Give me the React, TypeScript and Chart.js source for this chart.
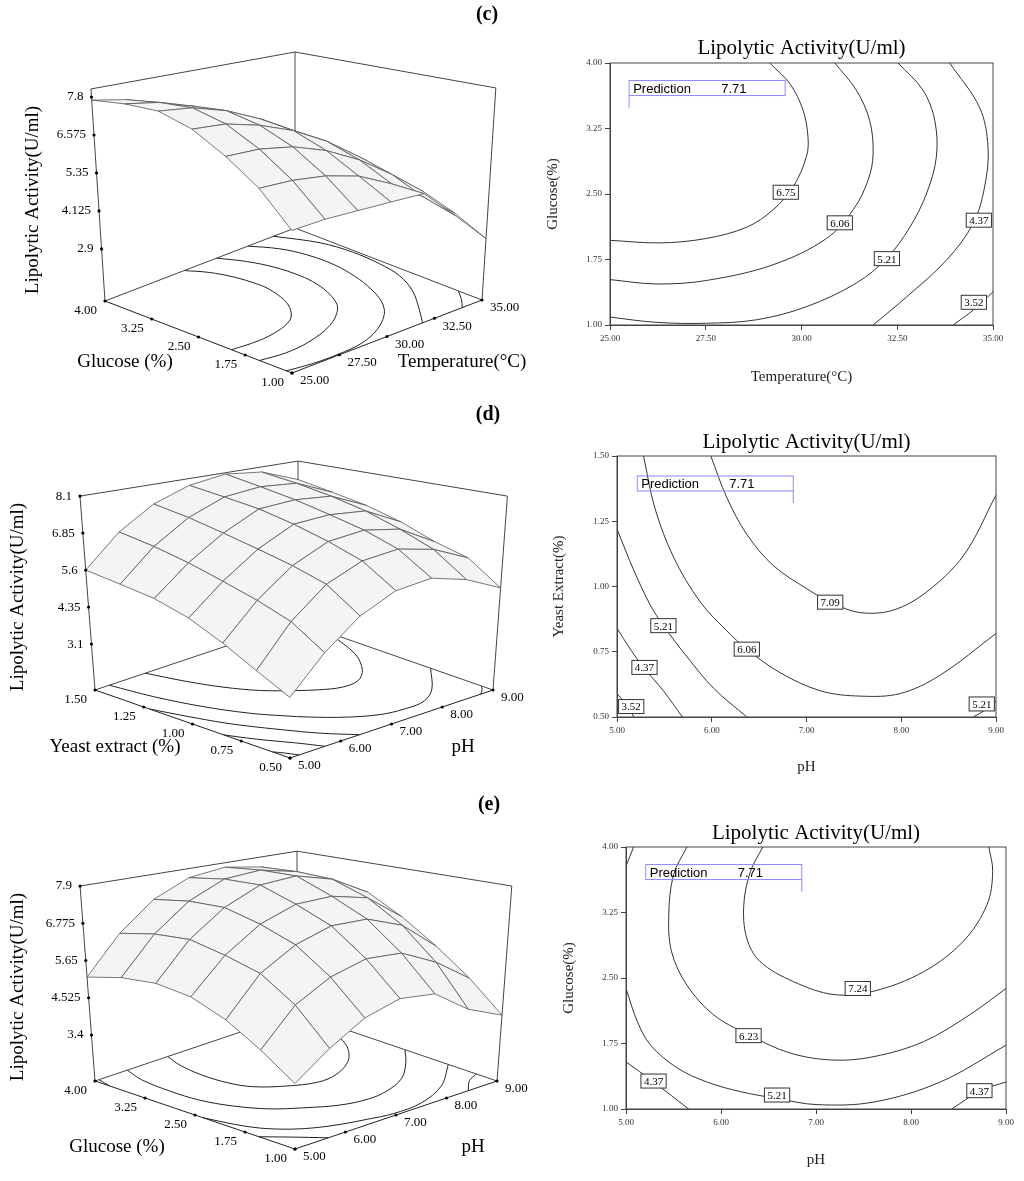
import React, { useEffect, useRef } from "react";
import { Chart, registerables } from "chart.js";
Chart.register(...registerables);

// ---------- Panel (c): Glucose (%) vs Temperature (°C) ----------
const cTempTicks = [25, 27.5, 30, 32.5, 35];
const cGlucoseTicks = [1, 1.75, 2.5, 3.25, 4];
const cZTicks = [2.9, 4.125, 5.35, 6.575, 7.8];
const cZLabels = ["2.9", "4.125", "5.35", "6.575", "7.8"];
const cGridGlucose = [1, 1.5, 2, 2.5, 3, 3.5, 4];
const cGridTemp = [25, 26.67, 28.33, 30, 31.67, 33.33, 35];
const cSurface = [
  [5.15, 5.22, 5.22, 5.22, 5.21, 4.25, 3.2],
  [6.1, 6.1, 6.0, 5.75, 5.25, 4.55, 3.7],
  [6.8, 6.8, 6.65, 6.3, 5.75, 5.0, 4.1],
  [7.4, 7.35, 7.1, 6.7, 6.1, 5.3, 4.35],
  [7.75, 7.65, 7.35, 6.85, 6.2, 5.4, 4.4],
  [7.78, 7.62, 7.28, 6.7, 6.0, 5.1, 4.05],
  [7.7, 7.5, 7.1, 6.45, 5.65, 4.7, 3.6],
];
const cLine675 = [[25, 1.97], [26.3, 1.94], [27.5, 1.99], [28.57, 2.12], [29.26, 2.32], [29.78, 2.58], [30.13, 2.93], [30.17, 3.15], [30.04, 3.46], [29.7, 3.76], [29.17, 4.0]];
const cLine606 = [[25, 1.52], [26.2, 1.47], [27.52, 1.51], [29.26, 1.69], [30.65, 1.99], [31.35, 2.32], [31.74, 2.66], [31.87, 2.96], [31.78, 3.34], [31.43, 3.69], [30.87, 4.0]];
const cLine521 = [[25, 1.09], [26.22, 1.03], [27.52, 1.02], [28.83, 1.06], [30.13, 1.21], [31.43, 1.48], [32.22, 1.76], [32.83, 2.12], [33.26, 2.5], [33.52, 2.92], [33.48, 3.34], [33.17, 3.69], [32.52, 4.0]];
const cLine437 = [[31.87, 1.0], [32.74, 1.32], [33.78, 1.74], [34.48, 2.16], [34.78, 2.58], [34.87, 3.04], [34.65, 3.49], [33.87, 4.0]];
const cLine352 = [[33.96, 1.0], [34.48, 1.17], [35, 1.38]];
const cLabels = [["6.75", 29.59, 2.52], ["6.06", 31.0, 2.17], ["5.21", 32.23, 1.76], ["4.37", 34.63, 2.2], ["3.52", 34.5, 1.26]];

// ---------- Panel (d): Yeast extract (%) vs pH ----------
const dPhTicks = [5, 6, 7, 8, 9];
const dYeastTicks = [0.5, 0.75, 1.0, 1.25, 1.5];
const dZTicks = [3.1, 4.35, 5.6, 6.85, 8.1];
const dZLabels = ["3.1", "4.35", "5.6", "6.85", "8.1"];
const dGridYeast = [0.5, 0.667, 0.833, 1.0, 1.167, 1.333, 1.5];
const dGridPh = [5, 5.667, 6.333, 7, 7.667, 8.333, 9];
const dSurface = [
  [3.3, 4.33, 5.17, 5.7, 5.85, 5.55, 5.0],
  [3.8, 5.0, 5.9, 6.4, 6.55, 6.3, 5.75],
  [4.35, 5.4, 6.25, 6.8, 6.95, 6.75, 6.05],
  [4.85, 5.75, 6.55, 7.15, 7.25, 7.15, 6.5],
  [5.2, 6.1, 6.85, 7.45, 7.55, 7.45, 6.85],
  [5.4, 6.4, 7.15, 7.65, 7.8, 7.7, 7.1],
  [5.6, 6.65, 7.4, 7.85, 8.05, 7.9, 7.35],
];
const dLine709 = [[5.99, 1.5], [6.16, 1.34], [6.37, 1.2], [6.65, 1.08], [7.01, 0.99], [7.25, 0.94], [7.57, 0.9], [7.92, 0.91], [8.27, 0.98], [8.66, 1.12], [9.0, 1.35]];
const dLine606 = [[5.28, 1.5], [5.4, 1.3], [5.6, 1.11], [5.88, 0.94], [6.16, 0.83], [6.37, 0.76], [6.72, 0.67], [7.15, 0.6], [7.57, 0.58], [7.99, 0.59], [8.41, 0.66], [9, 0.82]];
const dLine521a = [[5, 1.22], [5.18, 1.06], [5.35, 0.93], [5.49, 0.85], [5.74, 0.73], [6.02, 0.61], [6.37, 0.5]];
const dLine521b = [[8.76, 0.5], [8.9, 0.53], [9, 0.56]];
const dLine437 = [[5, 0.84], [5.14, 0.76], [5.28, 0.69], [5.49, 0.6], [5.69, 0.5]];
const dLine352 = [[5, 0.59], [5.09, 0.55], [5.18, 0.5]];
const dLabels = [["7.09", 7.25, 0.94], ["6.06", 6.37, 0.76], ["5.21", 5.49, 0.85], ["4.37", 5.29, 0.69], ["3.52", 5.15, 0.54], ["5.21", 8.85, 0.55]];

// ---------- Panel (e): Glucose (%) vs pH ----------
const ePhTicks = [5, 6, 7, 8, 9];
const eGlucoseTicks = [1, 1.75, 2.5, 3.25, 4];
const eZTicks = [3.4, 4.525, 5.65, 6.775, 7.9];
const eZLabels = ["3.4", "4.525", "5.65", "6.775", "7.9"];
const eGridGlucose = [1, 1.5, 2, 2.5, 3, 3.5, 4];
const eGridPh = [5, 5.667, 6.333, 7, 7.667, 8.333, 9];
const eSurface = [
  [3.7, 4.37, 4.95, 5.25, 5.15, 4.45, 4.0],
  [4.33, 5.3, 5.85, 6.15, 6.1, 5.6, 4.85],
  [4.9, 5.95, 6.55, 6.9, 6.9, 6.5, 5.6],
  [5.3, 6.25, 6.95, 7.35, 7.4, 7.15, 6.3],
  [5.45, 6.5, 7.25, 7.75, 7.85, 7.55, 6.9],
  [5.38, 6.45, 7.25, 7.75, 7.85, 7.6, 7.0],
  [5.15, 6.25, 7.1, 7.6, 7.75, 7.55, 7.05],
];
const eLine724 = [[6.44, 4.0], [6.31, 3.72], [6.24, 3.34], [6.27, 2.96], [6.41, 2.69], [6.76, 2.46], [7.19, 2.31], [7.61, 2.35], [8.13, 2.57], [8.55, 2.92], [8.8, 3.34], [8.86, 3.72], [8.82, 4.0]];
const eLine623 = [[5.64, 4.0], [5.5, 3.68], [5.45, 3.22], [5.48, 2.8], [5.64, 2.42], [5.92, 2.08], [6.29, 1.85], [6.73, 1.64], [7.19, 1.56], [7.61, 1.6], [8.13, 1.77], [8.62, 2.08], [9, 2.38]];
const eLine521a = [[5, 2.38], [5.12, 2.0], [5.26, 1.73], [5.54, 1.47], [5.85, 1.31], [6.2, 1.2], [6.59, 1.12], [7.01, 1.05], [7.61, 1.08], [8.31, 1.31], [9, 1.73]];
const eLine521b = [[5, 3.78], [5.08, 4.0]];
const eLine437a = [[5, 1.54], [5.29, 1.31], [5.66, 1.0]];
const eLine437b = [[8.43, 1.0], [8.73, 1.21], [9, 1.31]];
const eLabels = [["7.24", 7.44, 2.38], ["6.23", 6.29, 1.84], ["5.21", 6.59, 1.16], ["4.37", 5.29, 1.32], ["4.37", 8.72, 1.21]];

const prediction = "7.71";
const zTitle = "Lipolytic Activity(U/ml)";

type P = { x: number; y: number };

const SERIF = "'Liberation Serif', 'DejaVu Serif', serif";
const SANS = "'Liberation Sans', Arial, sans-serif";

// ---------- 3D surface panel ----------
function surfaceConfig(c: any) {
  const { F, L, R, z0, s, zTop } = c.geo;
  const B = { x: L.x + R.x - F.x, y: L.y + R.y - F.y };
  const proj = (u: number, v: number, z: number): P => {
    const d = (u + v) / 2;
    let x = F.x + u * (L.x - F.x) + v * (R.x - F.x);
    let y = F.y + u * (L.y - F.y) + v * (R.y - F.y);
    const h = z - z0;
    y -= h * s * (1 + 0.34 * (0.5 - d));
    x = B.x + (x - B.x) * (1 + 0.074 * h / (zTop - z0));
    return { x, y };
  };
  const uOf = (val: number) => (val - c.leftMin) / (c.leftMax - c.leftMin);
  const vOf = (val: number) => (val - c.rightMin) / (c.rightMax - c.rightMin);
  const lineDs = (pts: P[], color = "#222", width = 1, tension = 0) => ({
    data: pts,
    showLine: true,
    borderColor: color,
    borderWidth: width,
    pointRadius: 0,
    tension,
    fill: false,
  });
  const datasets: any[] = [];
  // back box
  datasets.push(lineDs([proj(1, 0, z0), proj(1, 1, z0), proj(0, 1, z0)], "#444"));
  datasets.push(lineDs([proj(1, 0, zTop), proj(1, 1, zTop), proj(0, 1, zTop)], "#444"));
  datasets.push(lineDs([proj(1, 0, z0), proj(1, 0, zTop)], "#444"));
  datasets.push(lineDs([proj(1, 1, z0), proj(1, 1, zTop)], "#444"));
  datasets.push(lineDs([proj(0, 1, z0), proj(0, 1, zTop)], "#444"));
  // floor contours
  c.contours.forEach((line: number[][]) => {
    datasets.push(lineDs(line.map(([x, y]) => proj(uOf(y), vOf(x), z0)), "#222", 1, 0.35));
  });
  // front edges
  datasets.push(lineDs([proj(1, 0, z0), proj(0, 0, z0), proj(0, 1, z0)], "#222"));

  const plugin = {
    id: "surf" + c.id,
    afterDatasetsDraw(chart: any) {
      const ctx = chart.ctx;
      const sx = chart.scales.x, sy = chart.scales.y;
      const px = (p: P) => ({ x: sx.getPixelForValue(p.x), y: sy.getPixelForValue(p.y) });
      const rows = c.leftVals.length, cols = c.rightVals.length;
      const quads: any[] = [];
      for (let i = 0; i < rows - 1; i++)
        for (let j = 0; j < cols - 1; j++) {
          const corners = [[i, j], [i + 1, j], [i + 1, j + 1], [i, j + 1]].map(([a, b]) =>
            px(proj(uOf(c.leftVals[a]), vOf(c.rightVals[b]), c.grid[a][b]))
          );
          const depth = uOf(c.leftVals[i]) + uOf(c.leftVals[i + 1]) + vOf(c.rightVals[j]) + vOf(c.rightVals[j + 1]);
          quads.push({ corners, depth });
        }
      quads.sort((a, b) => b.depth - a.depth);
      ctx.save();
      ctx.lineWidth = 0.8;
      ctx.strokeStyle = "#555";
      ctx.fillStyle = "#f4f4f4";
      ctx.lineJoin = "round";
      for (const q of quads) {
        ctx.beginPath();
        q.corners.forEach((p: P, k: number) => (k ? ctx.lineTo(p.x, p.y) : ctx.moveTo(p.x, p.y)));
        ctx.closePath();
        ctx.fill();
        ctx.stroke();
      }
      // ticks
      ctx.fillStyle = "#000";
      ctx.font = `13px ${SERIF}`;
      ctx.textBaseline = "middle";
      const dot = (p: P) => { ctx.beginPath(); ctx.arc(p.x, p.y, 1.6, 0, Math.PI * 2); ctx.fill(); };
      c.leftTicks.forEach((t: number, k: number) => {
        const p = px(proj(uOf(t), 0, z0));
        dot(p);
        ctx.textAlign = "right";
        ctx.fillText(c.leftLabels[k], p.x - 8, p.y + 10);
      });
      c.rightTicks.forEach((t: number, k: number) => {
        const p = px(proj(0, vOf(t), z0));
        dot(p);
        ctx.textAlign = "left";
        ctx.fillText(c.rightLabels[k], p.x + 8, p.y + 8);
      });
      c.zTicks.forEach((z: number, k: number) => {
        const p = px(proj(1, 0, z));
        dot(p);
        ctx.textAlign = "right";
        ctx.fillText(c.zLabels[k], p.x - 8, p.y);
      });
      ctx.font = `19px ${SERIF}`;
      ctx.textAlign = "center";
      ctx.fillText(c.leftTitle, c.leftTitlePos[0], c.leftTitlePos[1]);
      ctx.fillText(c.rightTitle, c.rightTitlePos[0], c.rightTitlePos[1]);
      ctx.save();
      ctx.translate(c.zTitlePos[0], c.zTitlePos[1]);
      ctx.rotate(-Math.PI / 2);
      ctx.fillText(zTitle, 0, 0);
      ctx.restore();
      ctx.font = `bold 20px ${SERIF}`;
      ctx.fillText(c.panel, c.panelPos[0], c.panelPos[1]);
      ctx.restore();
    },
  };
  return {
    type: "scatter",
    data: { datasets },
    options: {
      animation: false,
      responsive: false,
      layout: { padding: 0 },
      plugins: { legend: { display: false }, tooltip: { enabled: false } },
      scales: {
        x: { type: "linear", min: 0, max: c.w, display: false },
        y: { type: "linear", min: 0, max: c.h, reverse: true, display: false },
      },
    },
    plugins: [plugin],
  };
}

// ---------- 2D contour panel ----------
function contourConfig(c: any) {
  const datasets = c.lines.map((pts: number[][]) => ({
    data: pts.map(([x, y]) => ({ x, y })),
    showLine: true,
    borderColor: "#333",
    borderWidth: 1,
    pointRadius: 0,
    tension: 0.35,
    fill: false,
  }));
  const fmt = (v: any) => Number(v).toFixed(2);
  const plugin = {
    id: "cont" + c.id,
    afterDatasetsDraw(chart: any) {
      const ctx = chart.ctx;
      const a = chart.chartArea;
      const sx = chart.scales.x, sy = chart.scales.y;
      ctx.save();
      ctx.strokeStyle = "#444";
      ctx.lineWidth = 1;
      ctx.strokeRect(a.left, a.top, a.right - a.left, a.bottom - a.top);
      ctx.font = `11px ${SERIF}`;
      ctx.textAlign = "center";
      ctx.textBaseline = "middle";
      c.labels.forEach(([t, x, y]: any) => {
        const px = sx.getPixelForValue(x), py = sy.getPixelForValue(y);
        const w = ctx.measureText(t).width + 6;
        ctx.fillStyle = "#fff";
        ctx.fillRect(px - w / 2, py - 7, w, 14);
        ctx.strokeStyle = "#333";
        ctx.strokeRect(px - w / 2, py - 7, w, 14);
        ctx.fillStyle = "#000";
        ctx.fillText(t, px, py + 1);
      });
      // prediction flag
      const ax = sx.getPixelForValue(c.pred[0]), ay = sy.getPixelForValue(c.pred[1]);
      const bw = 156, bh = 15;
      const left = c.predRight ? ax - bw : ax;
      const top = ay - 12 - bh;
      ctx.strokeStyle = "#8a8aff";
      ctx.beginPath();
      ctx.moveTo(ax, ay);
      ctx.lineTo(ax, top + bh);
      ctx.stroke();
      ctx.strokeRect(left, top, bw, bh);
      ctx.fillStyle = "#000";
      ctx.font = `13px ${SANS}`;
      ctx.textAlign = "left";
      ctx.fillText("Prediction", left + 4, top + bh / 2 + 1);
      ctx.fillText(prediction, left + 92, top + bh / 2 + 1);
      ctx.font = `21px ${SERIF}`;
      ctx.textAlign = "center";
      ctx.fillText(zTitle, (a.left + a.right) / 2, c.titleY);
      ctx.restore();
    },
  };
  return {
    type: "scatter",
    data: { datasets },
    options: {
      animation: false,
      responsive: false,
      layout: { padding: { left: c.padL, right: c.padR, top: c.padT, bottom: c.padB } },
      plugins: { legend: { display: false }, tooltip: { enabled: false } },
      scales: {
        x: {
          type: "linear", min: c.xMin, max: c.xMax,
          afterBuildTicks: (s: any) => { s.ticks = c.xTicks.map((v: number) => ({ value: v })); },
          afterFit: (s: any) => { s.height = c.xH; },
          ticks: { callback: fmt, font: { size: 9, family: SERIF }, color: "#333", maxRotation: 0, padding: 3 },
          grid: { drawOnChartArea: false, tickLength: 5, color: "#444" },
          border: { color: "#444" },
          title: { display: true, text: c.xTitle, font: { size: 15, family: SERIF }, color: "#222" },
        },
        y: {
          type: "linear", min: c.yMin, max: c.yMax,
          afterBuildTicks: (s: any) => { s.ticks = c.yTicks.map((v: number) => ({ value: v })); },
          afterFit: (s: any) => { s.width = c.yW; },
          ticks: { callback: fmt, font: { size: 9, family: SERIF }, color: "#333", padding: 3 },
          grid: { drawOnChartArea: false, tickLength: 5, color: "#444" },
          border: { color: "#444" },
          title: { display: true, text: c.yTitle, font: { size: 15, family: SERIF }, color: "#222" },
        },
      },
    },
    plugins: [plugin],
  };
}

const fmt2 = (v: number) => v.toFixed(2);

const panels3D = [
  {
    id: "c", left: 0, top: 0, w: 540, h: 400,
    leftMin: 1, leftMax: 4, rightMin: 25, rightMax: 35,
    leftVals: cGridGlucose, rightVals: cGridTemp, grid: cSurface,
    leftTicks: cGlucoseTicks, leftLabels: cGlucoseTicks.map(fmt2),
    rightTicks: cTempTicks, rightLabels: cTempTicks.map(fmt2),
    zTicks: cZTicks, zLabels: cZLabels,
    contours: [cLine675, cLine606, cLine521, cLine437, cLine352],
    geo: { F: { x: 292, y: 373 }, L: { x: 105, y: 301 }, R: { x: 482, y: 300 }, z0: 1.22, s: 31, zTop: 8.06 },
    leftTitle: "Glucose (%)", leftTitlePos: [125, 362],
    rightTitle: "Temperature(°C)", rightTitlePos: [462, 362],
    zTitlePos: [33, 200], panel: "(c)", panelPos: [487, 15],
  },
  {
    id: "d", left: 0, top: 400, w: 540, h: 390,
    leftMin: 0.5, leftMax: 1.5, rightMin: 5, rightMax: 9,
    leftVals: dGridYeast, rightVals: dGridPh, grid: dSurface,
    leftTicks: dYeastTicks, leftLabels: dYeastTicks.map(fmt2),
    rightTicks: dPhTicks, rightLabels: dPhTicks.map(fmt2),
    zTicks: dZTicks, zLabels: dZLabels,
    contours: [dLine709, dLine606, dLine521a, dLine521b, dLine437, dLine352],
    geo: { F: { x: 290, y: 358 }, L: { x: 95, y: 290 }, R: { x: 493, y: 290 }, z0: 1.55, s: 29.6, zTop: 8.1 },
    leftTitle: "Yeast extract (%)", leftTitlePos: [115, 347],
    rightTitle: "pH", rightTitlePos: [463, 347],
    zTitlePos: [18, 197], panel: "(d)", panelPos: [488, 15],
  },
  {
    id: "e", left: 0, top: 790, w: 540, h: 391,
    leftMin: 1, leftMax: 4, rightMin: 5, rightMax: 9,
    leftVals: eGridGlucose, rightVals: eGridPh, grid: eSurface,
    leftTicks: eGlucoseTicks, leftLabels: eGlucoseTicks.map(fmt2),
    rightTicks: ePhTicks, rightLabels: ePhTicks.map(fmt2),
    zTicks: eZTicks, zLabels: eZLabels,
    contours: [eLine724, eLine623, eLine521a, eLine521b, eLine437a, eLine437b],
    geo: { F: { x: 295, y: 359 }, L: { x: 95, y: 291 }, R: { x: 497, y: 291 }, z0: 2.01, s: 33.1, zTop: 7.9 },
    leftTitle: "Glucose (%)", leftTitlePos: [117, 357],
    rightTitle: "pH", rightTitlePos: [473, 357],
    zTitlePos: [18, 197], panel: "(e)", panelPos: [489, 15],
  },
];

const panels2D = [
  {
    id: "c", left: 540, top: 0, w: 484, h: 400,
    lines: [cLine675, cLine606, cLine521, cLine437, cLine352], labels: cLabels,
    xMin: 25, xMax: 35, xTicks: cTempTicks, yMin: 1, yMax: 4, yTicks: cGlucoseTicks,
    xTitle: "Temperature(°C)", yTitle: "Glucose(%)",
    padL: 0, padR: 31, padT: 63, padB: 10, xH: 65, yW: 70, titleY: 48,
    pred: [25.5, 3.49], predRight: false,
  },
  {
    id: "d", left: 540, top: 400, w: 484, h: 400,
    lines: [dLine709, dLine606, dLine521a, dLine521b, dLine437, dLine352], labels: dLabels,
    xMin: 5, xMax: 9, xTicks: dPhTicks, yMin: 0.5, yMax: 1.5, yTicks: dYeastTicks,
    xTitle: "pH", yTitle: "Yeast Extract(%)",
    padL: 6, padR: 28, padT: 56, padB: 20, xH: 63, yW: 71, titleY: 42,
    pred: [6.86, 1.32], predRight: true,
  },
  {
    id: "e", left: 540, top: 790, w: 484, h: 391,
    lines: [eLine724, eLine623, eLine521a, eLine521b, eLine437a, eLine437b], labels: eLabels,
    xMin: 5, xMax: 9, xTicks: ePhTicks, yMin: 1, yMax: 4, yTicks: eGlucoseTicks,
    xTitle: "pH", yTitle: "Glucose(%)",
    padL: 16, padR: 18, padT: 57, padB: 8, xH: 64, yW: 70, titleY: 43,
    pred: [6.85, 3.49], predRight: true,
  },
];

function ChartBox({ make, cfg }: { make: (c: any) => any; cfg: any }) {
  const ref = useRef<HTMLCanvasElement | null>(null);
  useEffect(() => {
    if (!ref.current) return;
    const chart = new Chart(ref.current, make(cfg));
    return () => chart.destroy();
  }, []);
  return (
    <canvas
      ref={ref}
      width={cfg.w}
      height={cfg.h}
      style={{ position: "absolute", left: cfg.left, top: cfg.top, width: cfg.w, height: cfg.h }}
    />
  );
}

export default function App() {
  useEffect(() => {
    document.body.style.margin = "0";
    document.body.style.background = "#fff";
  }, []);
  return (
    <div style={{ position: "relative", width: 1024, height: 1181, background: "#fff", overflow: "hidden" }}>
      {panels3D.map((p) => (
        <ChartBox key={"s" + p.id} make={surfaceConfig} cfg={p} />
      ))}
      {panels2D.map((p) => (
        <ChartBox key={"k" + p.id} make={contourConfig} cfg={p} />
      ))}
    </div>
  );
}
